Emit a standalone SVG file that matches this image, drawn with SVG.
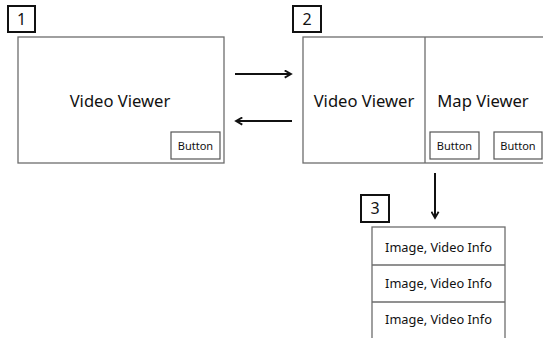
<svg xmlns="http://www.w3.org/2000/svg" width="543" height="338" viewBox="0 0 543 338">
<defs>
<style>
.frame{fill:#fff;stroke:#6d6d6d;stroke-width:1.3}
.btn{fill:#fff;stroke:#555;stroke-width:1.2}
.num{fill:#fff;stroke:#111;stroke-width:2}
.t{font-family:"Noto Sans","Open Sans",sans-serif;fill:#111;text-anchor:middle}
.big{font-size:16.6px}
.sm{font-size:11px}
.mid{font-size:12.8px}
.numt{font-size:16px}
.arr{stroke:#111;stroke-width:2;fill:none}
</style>
<marker id="ah" viewBox="0 0 10 10" refX="8" refY="5" markerWidth="4.5" markerHeight="4.5" orient="auto" markerUnits="strokeWidth">
<path d="M1,1 L8,5 L1,9" fill="none" stroke="#111" stroke-width="2"/>
</marker>
</defs>
<rect width="543" height="338" fill="#fff"/>
<g id="screen1">
<rect class="num" x="8" y="6" width="27" height="26"/>
<text class="t numt" x="21.5" y="25">1</text>
<rect class="frame" x="18" y="37" width="206" height="126"/>
<text class="t big" x="120" y="107">Video Viewer</text>
<rect class="btn" x="171" y="132" width="49" height="27"/>
<text class="t sm" x="195.5" y="149.5">Button</text>
</g>
<g id="screen2">
<rect class="num" x="293" y="6" width="28" height="26"/>
<text class="t numt" x="307" y="25">2</text>
<rect class="frame" x="303" y="37" width="245" height="126"/>
<line x1="425" y1="37" x2="425" y2="163" stroke="#6d6d6d" stroke-width="1.3"/>
<text class="t big" x="364" y="107">Video Viewer</text>
<text class="t big" x="483" y="107">Map Viewer</text>
<rect class="btn" x="430" y="132" width="49" height="27"/>
<text class="t sm" x="454.5" y="149.5">Button</text>
<rect class="btn" x="494" y="132" width="48" height="27"/>
<text class="t sm" x="518" y="149.5">Button</text>
</g>
<g id="screen3">
<rect class="num" x="361" y="195" width="28" height="27"/>
<text class="t numt" x="375" y="214">3</text>
<rect class="frame" x="372" y="227" width="133" height="120"/>
<line x1="372" y1="265" x2="505" y2="265" stroke="#6d6d6d" stroke-width="1.3"/>
<line x1="372" y1="302" x2="505" y2="302" stroke="#6d6d6d" stroke-width="1.3"/>
<text class="t mid" x="438.5" y="252">Image, Video Info</text>
<text class="t mid" x="438.5" y="288">Image, Video Info</text>
<text class="t mid" x="438.5" y="324">Image, Video Info</text>
</g>
<g id="connectors">
<line class="arr" x1="235" y1="74" x2="291" y2="74" marker-end="url(#ah)"/>
<line class="arr" x1="292" y1="121" x2="236" y2="121" marker-end="url(#ah)"/>
<line class="arr" x1="435" y1="173" x2="435" y2="218" marker-end="url(#ah)"/>
</g>
</svg>
